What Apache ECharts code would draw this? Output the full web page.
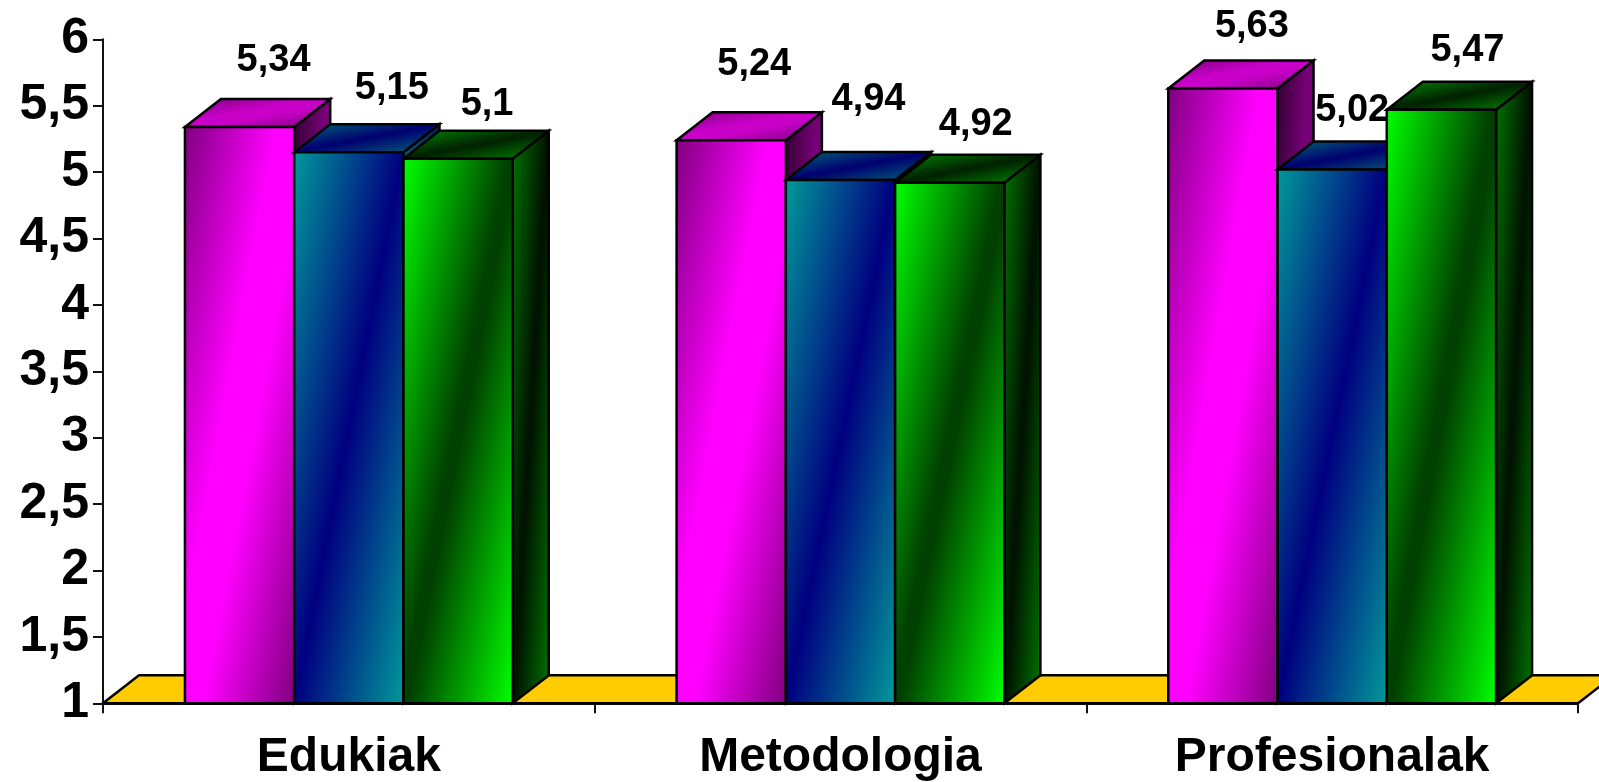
<!DOCTYPE html>
<html><head><meta charset="utf-8">
<style>html,body{margin:0;padding:0;background:#fff}#c{width:1599px;height:782px}</style>
<script src="https://cdn.jsdelivr.net/npm/echarts@6/dist/echarts.min.js"></script>
</head><body><div id="c"></div>
<script>
const categories = ['Edukiak', 'Metodologia', 'Profesionalak'];
const seriesA = [5.34, 5.24, 5.63];
const seriesB = [5.15, 4.94, 5.02];
const seriesC = [5.1, 4.92, 5.47];
const yMin = 1, yMax = 6, yStep = 0.5;

// Hand-placed label offsets of the original, [dx, dy] from the bar's top-centre (pixels)
const labelOffsetsA = [[34, -66], [23, -76], [29, -62]];
const labelOffsetsB = [[43, -64], [28, -81], [20, -59]];
const labelOffsetsC = [[29, -54], [26, -58], [26, -59]];

const DX = 36, DY = -28, STROKE = '#000', FONT = '"Liberation Sans", Arial, sans-serif';
const palettes = [
  {front: ['#800080', '#ff00ff'], top: ['#7a007a', '#c800c8'], side: ['#300030', '#760076'], plateau: .08},
  {front: ['#009999', '#000080'], top: ['#006878', '#000070'], side: ['#006070', '#002060'], plateau: 0},
  {front: ['#00ff00', '#004000'], top: ['#008a00', '#002400'], side: ['#007400', '#001400'], plateau: .02}
];

function diagGrad(minx, miny, w, h, c, plateau) {
  const L = Math.sqrt(w * w + h * h), t = w * h / L;
  const nx = h / L, ny = w / L, cx = minx + w / 2, cy = miny + h / 2;
  return {type: 'linear', global: true,
    x: cx - nx * t, y: cy - ny * t, x2: cx + nx * t, y2: cy + ny * t,
    colorStops: [{offset: 0, color: c[0]}, {offset: .5 - plateau, color: c[1]}, {offset: .5 + plateau, color: c[1]}, {offset: 1, color: c[0]}]};
}
function poly(points, fill) {
  return {type: 'polygon', shape: {points}, style: {fill, stroke: STROKE, lineWidth: 2.5, lineJoin: 'miter'}};
}
function barSeries(values, idx) {
  return {
    type: 'custom', z: 2 + idx, silent: true, clip: false,
    data: values.map((v, i) => [i, v]),
    renderItem(params, api) {
      const c = api.value(0), top = api.coord([c, api.value(1)]), base = api.coord([c, yMin]);
      const band = api.size([1, 0])[0], w = band / 4.5;
      const x0 = top[0] - 1.5 * w + idx * w, x1 = x0 + w, y0 = top[1], y1 = base[1];
      const p = palettes[idx];
      return {type: 'group', children: [
        poly([[x1, y0], [x1 + DX, y0 + DY], [x1 + DX, y1 + DY], [x1, y1]], diagGrad(x1, y0 + DY, DX, y1 - y0 - DY, p.side, p.plateau)),
        poly([[x0, y0], [x0 + DX, y0 + DY], [x1 + DX, y0 + DY], [x1, y0]], diagGrad(x0, y0 + DY, w + DX, -DY, p.top, p.plateau)),
        poly([[x0, y0], [x1, y0], [x1, y1], [x0, y1]], diagGrad(x0, y0, w, y1 - y0, p.front, p.plateau))
      ]};
    }
  };
}
const fmt = v => String(v).replace('.', ',');
const labelRows = [];
[[seriesA, labelOffsetsA], [seriesB, labelOffsetsB], [seriesC, labelOffsetsC]].forEach(([vals, offs], s) =>
  vals.forEach((v, i) => labelRows.push([i, v, s, offs[i][0], offs[i][1]])));

const chart = echarts.init(document.getElementById('c'), null, {renderer: 'canvas'});
chart.setOption({
  animation: false,
  backgroundColor: '#fff',
  grid: {left: 103, right: 21, top: 39.3, bottom: 78.7, containLabel: false},
  xAxis: {
    type: 'category', data: categories,
    axisLine: {lineStyle: {color: '#111', width: 2}},
    axisTick: {show: true, alignWithLabel: false, length: 10, lineStyle: {color: '#111', width: 2}},
    axisLabel: {color: '#000', fontFamily: FONT, fontWeight: 'bold', fontSize: 48, margin: 30, interval: 0}
  },
  yAxis: {
    type: 'value', min: yMin, max: yMax, interval: yStep,
    splitLine: {show: false},
    axisLine: {show: true, lineStyle: {color: '#111', width: 2}},
    axisTick: {show: true, length: 10, lineStyle: {color: '#111', width: 2}},
    axisLabel: {color: '#000', fontFamily: FONT, fontWeight: 'bold', fontSize: 50, margin: 14,
      formatter: v => fmt(v)}
  },
  series: [
    {
      type: 'custom', z: 1, silent: true, clip: false,
      data: [[0]],
      renderItem(params, api) {
        const l = api.coord([0, yMin]), r = api.coord([categories.length - 1, yMin]);
        const band = api.size([1, 0])[0], xa = l[0] - band / 2, xb = r[0] + band / 2, y = l[1];
        return poly([[xa, y], [xa + DX, y + DY], [xb + DX, y + DY], [xb, y]], '#ffcc00');
      }
    },
    barSeries(seriesA, 0), barSeries(seriesB, 1), barSeries(seriesC, 2),
    {
      type: 'custom', z: 10, silent: true, clip: false,
      data: labelRows,
      renderItem(params, api) {
        const c = api.value(0), v = api.value(1), s = api.value(2);
        const top = api.coord([c, v]), w = api.size([1, 0])[0] / 4.5;
        return {type: 'text', style: {
          text: fmt(v), x: top[0] - w + s * w + api.value(3), y: top[1] + api.value(4),
          fill: '#000', font: 'bold 38px ' + FONT, align: 'center', verticalAlign: 'middle'
        }};
      }
    }
  ]
});
</script></body></html>
